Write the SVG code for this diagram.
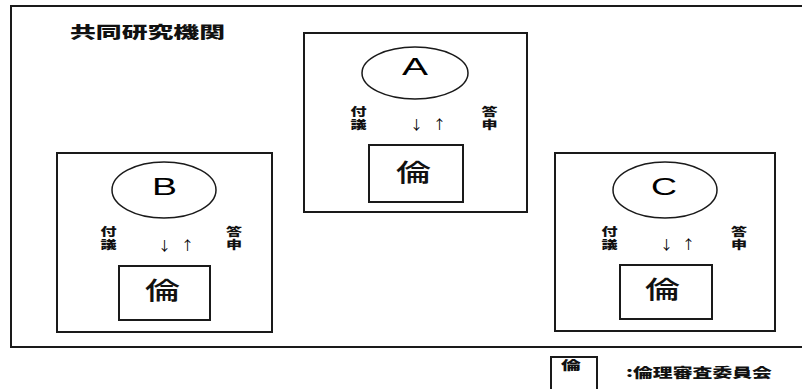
<svg xmlns="http://www.w3.org/2000/svg" width="802" height="389" viewBox="0 0 802 389">
  <style>
    .frame { fill: none; stroke: #1a1a1a; stroke-width: 2; }
    .org { fill: none; stroke: #1a1a1a; stroke-width: 2; }
    .ell { fill: none; stroke: #1a1a1a; stroke-width: 1.5; }
    .letter { font-family: "Liberation Sans", Arial, sans-serif; font-size: 24px; fill: #000; }
    .jp { font-family: "Noto Sans CJK JP", "Noto Sans CJK SC", sans-serif; fill: #111; }
    .lbl { font-size: 11.5px; font-weight: 900; writing-mode: vertical-rl; letter-spacing: 1.5px; }
    .rin { font-size: 24px; font-weight: 500; }
    .arr { font-family: "Noto Sans CJK JP", "DejaVu Sans", sans-serif; font-size: 13px; fill: #000; }
  </style>
  <rect width="802" height="389" fill="#ffffff"/>

  <g id="frame">
    <rect class="frame" x="11" y="6" width="800" height="341"/>
    <text class="jp" x="70" y="38" font-size="16" font-weight="900" textLength="155" lengthAdjust="spacingAndGlyphs">共同研究機関</text>
  </g>

  <g id="node-A">
    <rect class="org" x="304" y="33" width="223" height="179"/>
    <ellipse class="ell" cx="415" cy="73" rx="53" ry="26"/>
    <text class="letter" x="402" y="75" textLength="26" lengthAdjust="spacingAndGlyphs">A</text>
    <text class="jp lbl" transform="translate(358.5,106) scale(1.4,1)">付議</text>
    <text class="jp lbl" transform="translate(489.5,106) scale(1.4,1)">答申</text>
    <rect class="org" x="369" y="145" width="94" height="57"/>
    <text class="jp rin" x="396" y="181" textLength="35" lengthAdjust="spacingAndGlyphs">倫</text>
  </g>

  <g id="node-B">
    <rect class="org" x="57" y="153" width="215" height="179"/>
    <ellipse class="ell" cx="164" cy="190" rx="52" ry="28"/>
    <text class="letter" x="152" y="195" textLength="25" lengthAdjust="spacingAndGlyphs">B</text>
    <text class="jp lbl" transform="translate(108.5,226) scale(1.4,1)">付議</text>
    <text class="jp lbl" transform="translate(234,226) scale(1.4,1)">答申</text>
    <rect class="org" x="119" y="266" width="91" height="54"/>
    <text class="jp rin" x="145" y="299" textLength="35" lengthAdjust="spacingAndGlyphs">倫</text>
  </g>

  <g id="node-C">
    <rect class="org" x="555" y="153" width="220" height="178"/>
    <ellipse class="ell" cx="665" cy="190" rx="52" ry="28"/>
    <text class="letter" x="651" y="195" textLength="26" lengthAdjust="spacingAndGlyphs">C</text>
    <text class="jp lbl" transform="translate(609.5,226) scale(1.4,1)">付議</text>
    <text class="jp lbl" transform="translate(739,226) scale(1.4,1)">答申</text>
    <rect class="org" x="620" y="265" width="92" height="54"/>
    <text class="jp rin" x="645" y="298" textLength="35" lengthAdjust="spacingAndGlyphs">倫</text>
  </g>

  <g id="connectors">
    <text class="arr" x="410" y="129">↓</text>
    <text class="arr" x="433" y="129">↑</text>
    <text class="arr" x="158" y="250">↓</text>
    <text class="arr" x="181" y="250">↑</text>
    <text class="arr" x="660" y="249">↓</text>
    <text class="arr" x="682" y="249">↑</text>
  </g>

  <g id="legend">
    <rect class="org" x="551" y="357" width="46" height="40"/>
    <text class="jp" x="561" y="370" font-size="12" font-weight="900" textLength="20" lengthAdjust="spacingAndGlyphs">倫</text>
    <text class="jp" x="626" y="377" font-size="13" font-weight="900" textLength="146" lengthAdjust="spacingAndGlyphs">:倫理審査委員会</text>
  </g>
</svg>
